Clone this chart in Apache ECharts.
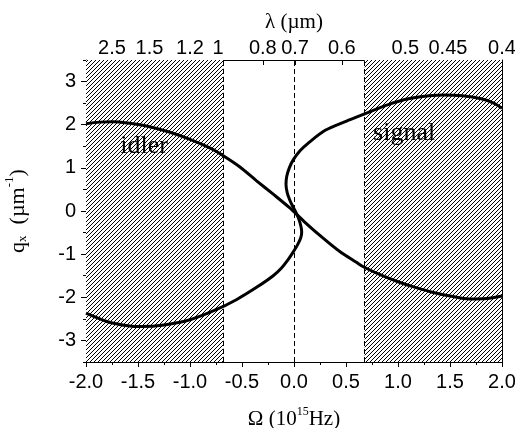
<!DOCTYPE html>
<html lang="en">
<head>
<meta charset="UTF-8">
<title>qx vs Omega</title>
<script src="https://cdn.jsdelivr.net/npm/echarts@6/dist/echarts.min.js"></script>
<style>
    *{margin:0;padding:0}
    html,body{width:100%;height:100%;overflow:hidden;background:#fff}
    .container{width:515px;height:428px}
</style>
</head>
<body>
<div class="container"></div>
<script>
    // curves: [Omega (1e15 Hz), qx (1/um)]
    let idlerCurve=[[-2.0,2.02],[-1.87,2.06],[-1.74,2.07],[-1.6,2.04],[-1.42,1.97],[-1.2,1.83],[-1.0,1.66],
        [-0.8,1.45],[-0.68,1.28],[-0.52,1.02],[-0.36,0.70],[-0.2,0.39],[-0.04,0.07],[0.1,-0.25],[0.28,-0.63],
        [0.44,-0.94],[0.6,-1.19],[0.68,-1.31],[0.85,-1.5],[1.0,-1.64],[1.15,-1.76],[1.31,-1.87],[1.5,-1.97],
        [1.69,-2.04],[1.85,-2.03],[2.0,-1.97]];
    let sCurve=[[-2.0,-2.37],[-1.8,-2.56],[-1.6,-2.66],[-1.46,-2.68],[-1.25,-2.64],[-1.0,-2.52],[-0.76,-2.3],
        [-0.55,-2.05],[-0.36,-1.77],[-0.2,-1.5],[-0.12,-1.32],[-0.06,-1.14],[-0.01,-0.96],[0.035,-0.78],
        [0.065,-0.62],[0.074,-0.48],[0.065,-0.34],[0.045,-0.18],[0.02,-0.04],[-0.01,0.1],[-0.04,0.25],[-0.065,0.42],
        [-0.077,0.62],[-0.07,0.8],[-0.045,1.0],[-0.006,1.19],[0.06,1.4],[0.14,1.58],[0.3,1.87],[0.5,2.08],
        [0.71,2.28],[0.9,2.46],[1.1,2.6],[1.3,2.67],[1.44,2.69],[1.62,2.67],[1.8,2.6],[1.92,2.5],[2.0,2.38]];
    let lamLabels=['2.5','1.5','1.2','1','0.8','0.7','0.6','0.5','0.45','0.4'];
    let lamPos=[-1.75,-1.39,-1.0,-0.73,-0.3,0.01,0.46,1.07,1.48,2.0];
    let yTicks=[-3,-2,-1,0,1,2,3];
    let hatchEdges=[-0.68,0.68];
    let dashLines=[-0.68,0,0.68];
    let notes=[{name:'idler',coord:[-1.67,1.5]},{name:'signal',coord:[0.76,1.8]}];

    let serif='"Liberation Serif", "DejaVu Serif", serif';
    let sans='"Liberation Sans", Arial, sans-serif';

    // diagonal hatch
    let hatch=document.createElement('canvas');
    hatch.width=4;hatch.height=4;
    let ctx=hatch.getContext('2d');
    ctx.fillStyle='#fff';ctx.fillRect(0,0,4,4);
    ctx.strokeStyle='#000';ctx.lineWidth=1;
    ctx.beginPath();
    ctx.moveTo(0,4);ctx.lineTo(4,0);
    ctx.moveTo(-1,1);ctx.lineTo(1,-1);
    ctx.moveTo(3,5);ctx.lineTo(5,3);
    ctx.stroke();

    let container=document.querySelector('.container');
    let mycharts=echarts.init(container);

    let black='#000';
    let option={
        animation:false,
        backgroundColor:'#fff',
        grid:{left:86,right:13,top:60,bottom:66,outerBoundsMode:'none',containLabel:false},
        xAxis:[{
            type:'value',position:'bottom',min:-2,max:2,interval:0.5,
            axisLine:{onZero:false,lineStyle:{color:black,width:1}},
            axisTick:{inside:false,length:5,lineStyle:{color:black}},
            minorTick:{show:true,splitNumber:2,length:3,lineStyle:{color:black}},
            splitLine:{show:false},
            axisLabel:{color:black,fontFamily:sans,fontSize:20,margin:10,formatter:v=>v.toFixed(1)},
            name:'{n|Ω (10}{sup|15}{n|Hz)}',nameLocation:'middle',nameGap:44,
            nameTextStyle:{rich:{
                n:{fontFamily:serif,fontSize:21,color:black,lineHeight:24,verticalAlign:'bottom'},
                sup:{fontFamily:serif,fontSize:12,color:black,lineHeight:12,verticalAlign:'top'}
            }}
        },{
            type:'value',position:'top',min:-2,max:2,
            axisLine:{onZero:false,lineStyle:{color:black,width:1}},
            axisTick:{inside:true,length:5,customValues:lamPos,lineStyle:{color:black}},
            splitLine:{show:false},
            axisLabel:{color:black,fontFamily:sans,fontSize:20,margin:2,customValues:lamPos,
                formatter:v=>lamLabels[lamPos.indexOf(v)]},
            name:'λ (µm)',nameLocation:'middle',nameGap:25,
            nameTextStyle:{fontFamily:serif,fontSize:21,color:black}
        }],
        yAxis:[{
            type:'value',position:'left',min:-3.5,max:3.5,interval:0.5,
            axisLine:{onZero:false,lineStyle:{color:black,width:1}},
            axisTick:{inside:false,length:5,customValues:yTicks,lineStyle:{color:black}},
            splitLine:{show:false},
            axisLabel:{color:black,fontFamily:sans,fontSize:20,margin:10,customValues:yTicks},
            name:'{n|q}{sub|x}{n|  (µm}{sup|-1}{n|)}',nameLocation:'middle',nameGap:57,nameRotate:90,
            nameTextStyle:{rich:{
                n:{fontFamily:serif,fontSize:22,color:black,lineHeight:26,verticalAlign:'bottom'},
                sub:{fontFamily:serif,fontSize:13,color:black,lineHeight:10,verticalAlign:'bottom'},
                sup:{fontFamily:serif,fontSize:13,color:black,lineHeight:12,verticalAlign:'top'}
            }}
        },{
            type:'value',position:'left',min:-3.5,max:3.5,interval:0.5,
            axisLine:{show:false,onZero:false},
            axisTick:{inside:false,length:3,lineStyle:{color:black}},
            splitLine:{show:false},axisLabel:{show:false}
        },{
            type:'value',position:'right',min:-3.5,max:3.5,interval:0.5,
            axisLine:{onZero:false,lineStyle:{color:black,width:1}},
            axisTick:{inside:true,length:4,lineStyle:{color:black}},
            splitLine:{show:false},axisLabel:{show:false}
        }],
        series:[{
            type:'line',data:[],z:1,silent:true,
            markArea:{
                silent:true,
                itemStyle:{color:{image:hatch,repeat:'repeat'}},
                data:[[{xAxis:-2},{xAxis:hatchEdges[0]}],[{xAxis:hatchEdges[1]},{xAxis:2}]]
            },
            markLine:{
                silent:true,symbol:'none',label:{show:false},
                lineStyle:{color:black,width:1,type:[5,3]},
                data:dashLines.map(v=>({xAxis:v}))
            }
        },{
            name:'idler',type:'line',data:idlerCurve,z:3,showSymbol:false,smooth:0.3,
            lineStyle:{color:black,width:3}
        },{
            name:'signal',type:'line',data:sCurve,z:3,showSymbol:false,smooth:0.3,
            lineStyle:{color:black,width:3},
            markPoint:{
                silent:true,symbol:'circle',symbolSize:0,
                label:{show:true,position:'right',distance:0,formatter:'{b}',
                    fontFamily:serif,fontSize:26,color:black},
                data:notes
            }
        }]
    };
    mycharts.setOption(option);
</script>
</body>
</html>
